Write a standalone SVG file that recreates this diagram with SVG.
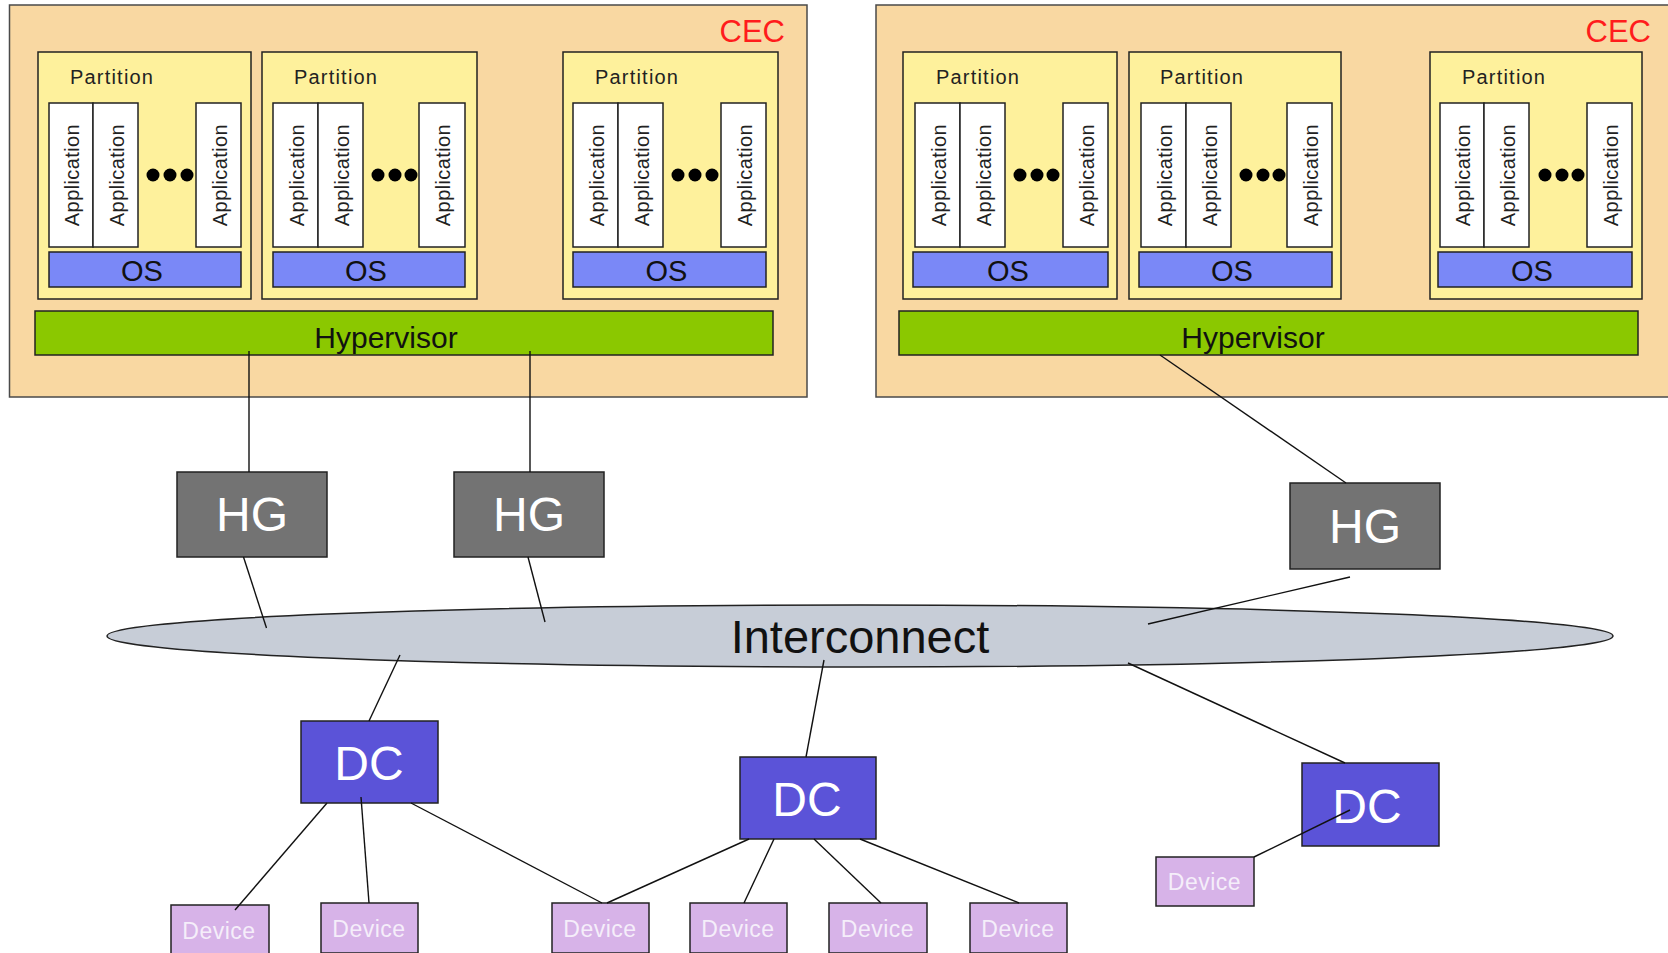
<svg xmlns="http://www.w3.org/2000/svg" width="1668" height="953" viewBox="0 0 1668 953">
<style>
text{font-family:"Liberation Sans",Arial,sans-serif}
.cec{fill:#f9d8a2;stroke:#4a4a4a;stroke-width:1.5}
.cect{fill:#ff1c1c;font-size:31px;text-anchor:end}
.part{fill:#fef19c;stroke:#222;stroke-width:1.5}
.partt{fill:#222;font-size:20px;letter-spacing:1.2px}
.app{fill:#fff;stroke:#222;stroke-width:1.5}
.appt{fill:#222;font-size:20px;text-anchor:middle;letter-spacing:0.4px}
.os{fill:#7a88f7;stroke:#222;stroke-width:1.5}
.ost{fill:#111;font-size:29px;text-anchor:middle}
.hyp{fill:#8bc800;stroke:#222;stroke-width:1.5}
.hypt{fill:#111;font-size:30px;text-anchor:middle}
.dot{fill:#000}
.hg{fill:#737373;stroke:#222;stroke-width:1.5}
.hgt{fill:#fff;font-size:48px;text-anchor:middle}
.dc{fill:#5b53d8;stroke:#222;stroke-width:1.5}
.dct{fill:#fff;font-size:48px;text-anchor:middle}
.dev{fill:#d7b3e8;stroke:#222;stroke-width:1.5}
.devt{fill:#f5eefa;font-size:23px;text-anchor:middle;letter-spacing:0.5px}
.net{fill:#c7cdd7;stroke:#222;stroke-width:1.5}
.nett{fill:#111;font-size:47px;text-anchor:middle}
.conn line{stroke:#111;stroke-width:1.4}
</style>

<g id="cec1">
<rect class="cec" x="9.5" y="5" width="797.5" height="392"/>
<text class="cect" x="785" y="42">CEC</text>
</g>
<g id="cec2">
<rect class="cec" x="876" y="5" width="800" height="392"/>
<text class="cect" x="1651" y="42">CEC</text>
</g>

<g id="partition1">
<rect class="part" x="38" y="52" width="213" height="247"/>
<text class="partt" x="70" y="84">Partition</text>
<rect class="app" x="49" y="103" width="44" height="144"/>
<rect class="app" x="93" y="103" width="45" height="144"/>
<rect class="app" x="196" y="103" width="45" height="144"/>
<text class="appt" transform="translate(79,175) rotate(-90)">Application</text>
<text class="appt" transform="translate(123.5,175) rotate(-90)">Application</text>
<text class="appt" transform="translate(226.5,175) rotate(-90)">Application</text>
<circle class="dot" cx="153" cy="175" r="6.5"/><circle class="dot" cx="170" cy="175" r="6.5"/><circle class="dot" cx="187" cy="175" r="6.5"/>
<rect class="os" x="49" y="252" width="192" height="35"/>
<text class="ost" x="142" y="281">OS</text>
</g>

<g id="partition2">
<rect class="part" x="262" y="52" width="215" height="247"/>
<text class="partt" x="294" y="84">Partition</text>
<rect class="app" x="273" y="103" width="45" height="144"/>
<rect class="app" x="318" y="103" width="45" height="144"/>
<rect class="app" x="419" y="103" width="46" height="144"/>
<text class="appt" transform="translate(303.5,175) rotate(-90)">Application</text>
<text class="appt" transform="translate(348.5,175) rotate(-90)">Application</text>
<text class="appt" transform="translate(450,175) rotate(-90)">Application</text>
<circle class="dot" cx="378" cy="175" r="6.5"/><circle class="dot" cx="395" cy="175" r="6.5"/><circle class="dot" cx="411" cy="175" r="6.5"/>
<rect class="os" x="273" y="252" width="192" height="35"/>
<text class="ost" x="366" y="281">OS</text>
</g>

<g id="partition3">
<rect class="part" x="563" y="52" width="215" height="247"/>
<text class="partt" x="595" y="84">Partition</text>
<rect class="app" x="573" y="103" width="45" height="144"/>
<rect class="app" x="618" y="103" width="45" height="144"/>
<rect class="app" x="721" y="103" width="45" height="144"/>
<text class="appt" transform="translate(603.5,175) rotate(-90)">Application</text>
<text class="appt" transform="translate(648.5,175) rotate(-90)">Application</text>
<text class="appt" transform="translate(751.5,175) rotate(-90)">Application</text>
<circle class="dot" cx="678" cy="175" r="6.5"/><circle class="dot" cx="695" cy="175" r="6.5"/><circle class="dot" cx="712" cy="175" r="6.5"/>
<rect class="os" x="573" y="252" width="193" height="35"/>
<text class="ost" x="666.5" y="281">OS</text>
</g>

<g id="hypervisor1">
<rect class="hyp" x="35" y="311" width="738" height="44"/>
<text class="hypt" x="386" y="348">Hypervisor</text>
</g>

<g id="partition4">
<rect class="part" x="903" y="52" width="214" height="247"/>
<text class="partt" x="936" y="84">Partition</text>
<rect class="app" x="915" y="103" width="45" height="144"/>
<rect class="app" x="960" y="103" width="45" height="144"/>
<rect class="app" x="1063" y="103" width="45" height="144"/>
<text class="appt" transform="translate(945.5,175) rotate(-90)">Application</text>
<text class="appt" transform="translate(990.5,175) rotate(-90)">Application</text>
<text class="appt" transform="translate(1093.5,175) rotate(-90)">Application</text>
<circle class="dot" cx="1020" cy="175" r="6.5"/><circle class="dot" cx="1037" cy="175" r="6.5"/><circle class="dot" cx="1053" cy="175" r="6.5"/>
<rect class="os" x="913" y="252" width="195" height="35"/>
<text class="ost" x="1008" y="281">OS</text>
</g>

<g id="partition5">
<rect class="part" x="1129" y="52" width="212" height="247"/>
<text class="partt" x="1160" y="84">Partition</text>
<rect class="app" x="1141" y="103" width="45" height="144"/>
<rect class="app" x="1186" y="103" width="45" height="144"/>
<rect class="app" x="1287" y="103" width="45" height="144"/>
<text class="appt" transform="translate(1171.5,175) rotate(-90)">Application</text>
<text class="appt" transform="translate(1216.5,175) rotate(-90)">Application</text>
<text class="appt" transform="translate(1317.5,175) rotate(-90)">Application</text>
<circle class="dot" cx="1246" cy="175" r="6.5"/><circle class="dot" cx="1263" cy="175" r="6.5"/><circle class="dot" cx="1279" cy="175" r="6.5"/>
<rect class="os" x="1139" y="252" width="193" height="35"/>
<text class="ost" x="1232" y="281">OS</text>
</g>

<g id="partition6">
<rect class="part" x="1430" y="52" width="212" height="247"/>
<text class="partt" x="1462" y="84">Partition</text>
<rect class="app" x="1440" y="103" width="44" height="144"/>
<rect class="app" x="1484" y="103" width="45" height="144"/>
<rect class="app" x="1587" y="103" width="45" height="144"/>
<text class="appt" transform="translate(1470,175) rotate(-90)">Application</text>
<text class="appt" transform="translate(1514.5,175) rotate(-90)">Application</text>
<text class="appt" transform="translate(1617.5,175) rotate(-90)">Application</text>
<circle class="dot" cx="1545" cy="175" r="6.5"/><circle class="dot" cx="1562" cy="175" r="6.5"/><circle class="dot" cx="1578" cy="175" r="6.5"/>
<rect class="os" x="1438" y="252" width="194" height="35"/>
<text class="ost" x="1532" y="281">OS</text>
</g>

<g id="hypervisor2">
<rect class="hyp" x="899" y="311" width="739" height="44"/>
<text class="hypt" x="1253" y="348">Hypervisor</text>
</g>

<g id="hg1">
<rect class="hg" x="177" y="472" width="150" height="85"/>
<text class="hgt" x="252" y="531">HG</text>
</g>
<g id="hg2">
<rect class="hg" x="454" y="472" width="150" height="85"/>
<text class="hgt" x="529" y="531">HG</text>
</g>
<g id="hg3">
<rect class="hg" x="1290" y="483" width="150" height="86"/>
<text class="hgt" x="1365" y="543">HG</text>
</g>

<g id="interconnect">
<ellipse class="net" cx="860" cy="636" rx="753" ry="31"/>
<text class="nett" x="860" y="653">Interconnect</text>
</g>

<g id="dc1">
<rect class="dc" x="301" y="721" width="137" height="82"/>
<text class="dct" x="369" y="780">DC</text>
</g>
<g id="dc2">
<rect class="dc" x="740" y="757" width="136" height="82"/>
<text class="dct" x="807" y="816">DC</text>
</g>
<g id="dc3">
<rect class="dc" x="1302" y="763" width="137" height="83"/>
<text class="dct" x="1367" y="823">DC</text>
</g>

<g id="device1"><rect class="dev" x="171" y="905" width="98" height="50"/><text class="devt" x="219" y="939">Device</text></g>
<g id="device2"><rect class="dev" x="321" y="903" width="97" height="50"/><text class="devt" x="369" y="937">Device</text></g>
<g id="device3"><rect class="dev" x="552" y="903" width="97" height="50"/><text class="devt" x="600" y="937">Device</text></g>
<g id="device4"><rect class="dev" x="690" y="903" width="97" height="50"/><text class="devt" x="738" y="937">Device</text></g>
<g id="device5"><rect class="dev" x="829" y="903" width="98" height="50"/><text class="devt" x="877.5" y="937">Device</text></g>
<g id="device6"><rect class="dev" x="970" y="903" width="97" height="50"/><text class="devt" x="1018" y="937">Device</text></g>
<g id="device7"><rect class="dev" x="1156" y="857" width="98" height="49"/><text class="devt" x="1204.5" y="890">Device</text></g>

<g id="connectors" class="conn">
<line x1="249" y1="351" x2="249" y2="472"/>
<line x1="530" y1="351" x2="530" y2="472"/>
<line x1="1160" y1="355" x2="1346" y2="483"/>
<line x1="243.5" y1="557" x2="266.5" y2="628"/>
<line x1="528" y1="557" x2="545" y2="622"/>
<line x1="1350" y1="577" x2="1148" y2="624"/>
<line x1="400" y1="655" x2="369" y2="721"/>
<line x1="824" y1="660" x2="806" y2="757"/>
<line x1="1128" y1="663" x2="1345" y2="763"/>
<line x1="327" y1="803" x2="235" y2="910"/>
<line x1="361" y1="797" x2="369" y2="903"/>
<line x1="411" y1="803" x2="602" y2="903"/>
<line x1="749" y1="839" x2="607" y2="903"/>
<line x1="774" y1="839" x2="744" y2="903"/>
<line x1="814" y1="839" x2="881" y2="903"/>
<line x1="860" y1="839" x2="1019" y2="903"/>
<line x1="1254" y1="857" x2="1350" y2="810"/>
</g>
</svg>
